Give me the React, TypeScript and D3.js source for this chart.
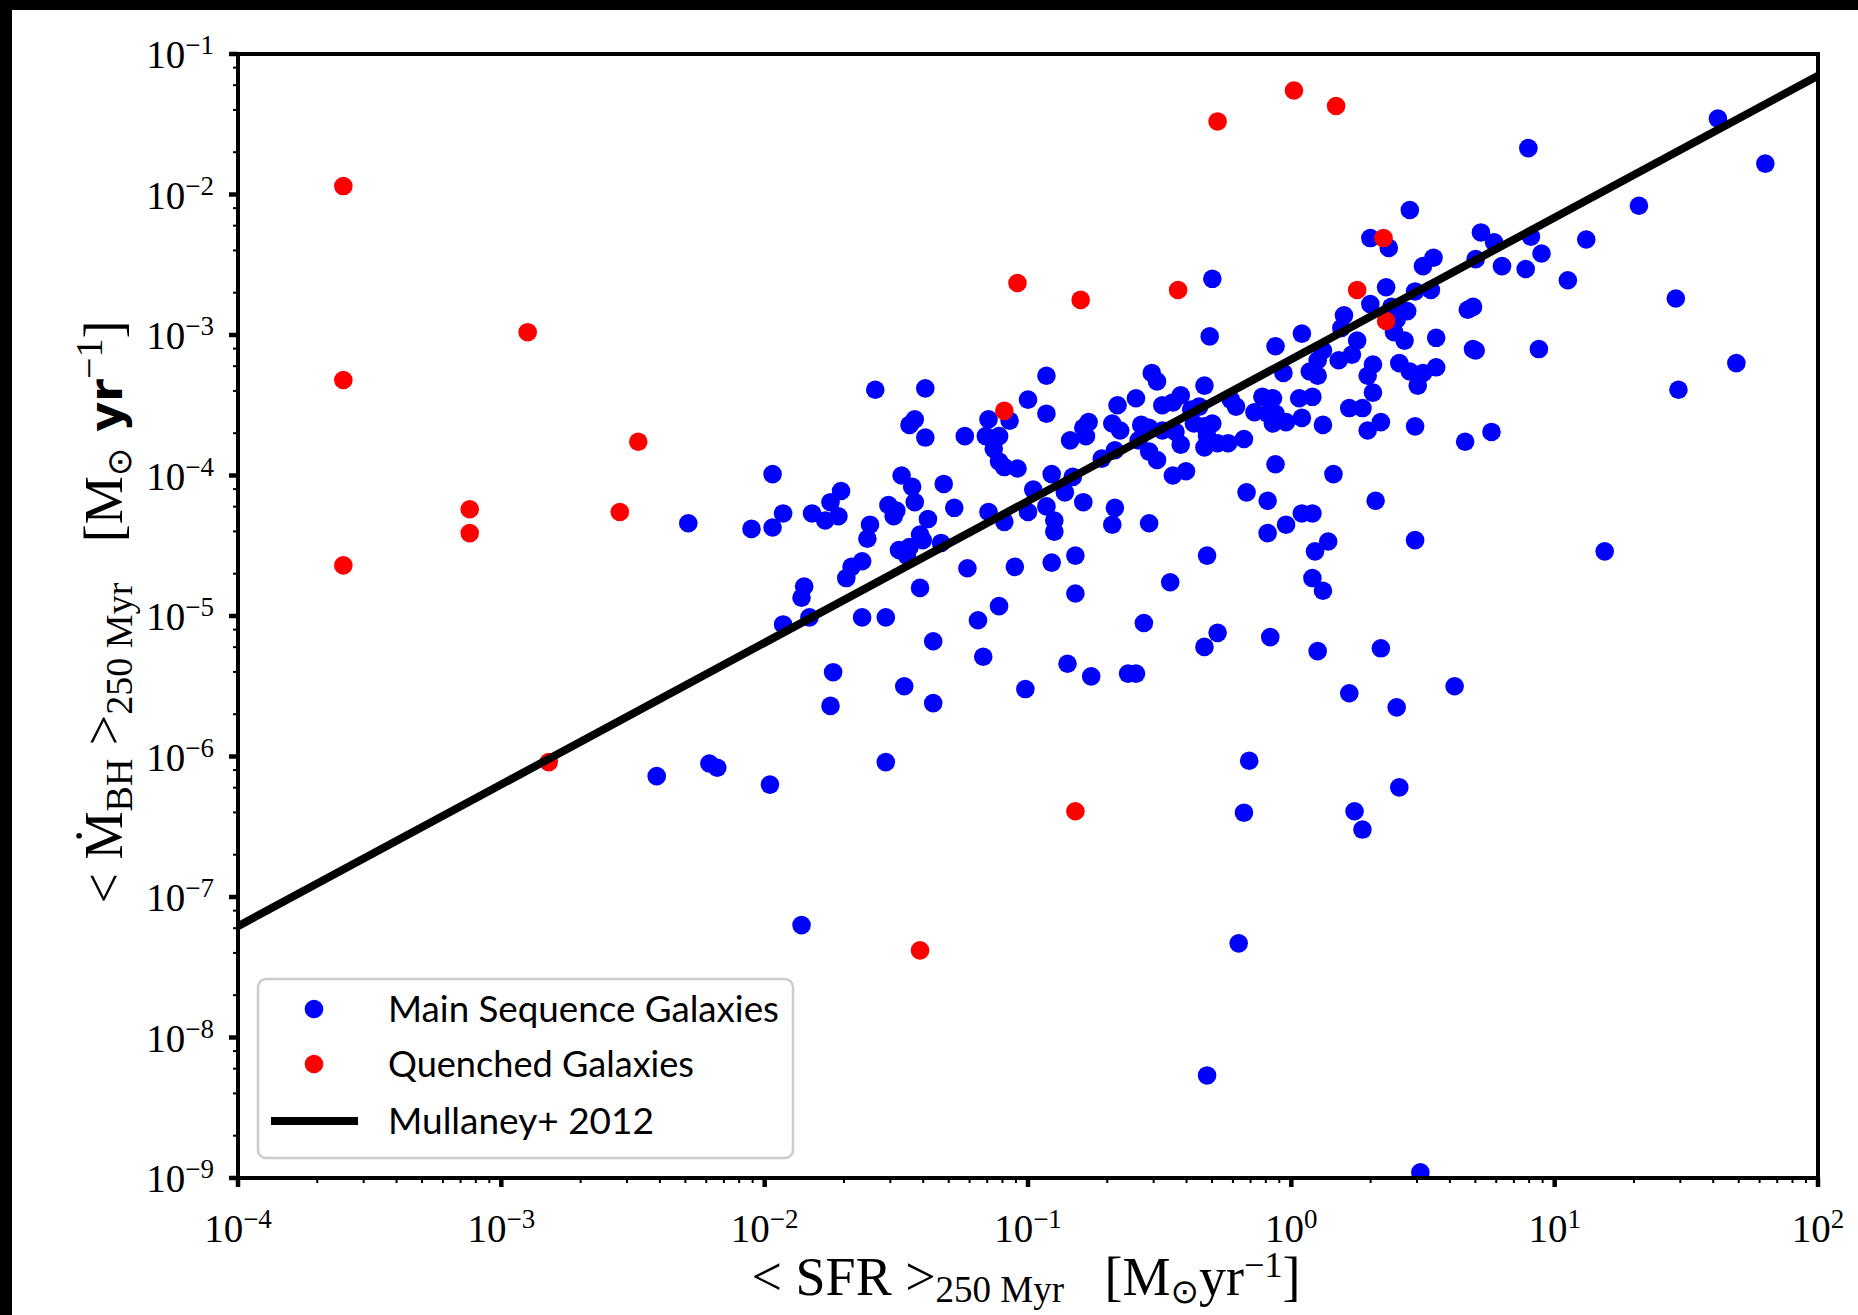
import React from 'react';
import * as d3 from 'd3';

// Values, stored as log10 pairs: [log10 <SFR>, log10 <BHAR>]
const mainSequenceLog: [number, number][] = [
  [0.45,-2.11],[0.72,-2.27],[0.77,-2.34],[0.91,-2.30],[0.95,-2.42],[0.70,-2.46],[0.80,-2.51],[0.89,-2.53],[1.05,-2.61],
  [0.30,-2.31],[0.37,-2.38],[0.50,-2.51],[0.54,-2.45],[-0.30,-2.60],[0.36,-2.66],[0.47,-2.69],[0.53,-2.68],[0.30,-2.78],
  [0.38,-2.80],[0.44,-2.83],[0.40,-2.89],[0.39,-2.98],[0.43,-3.04],[0.67,-2.82],[0.69,-2.80],[0.55,-3.02],[0.69,-3.10],
  [0.70,-3.11],[0.94,-3.10],[0.20,-2.86],[0.19,-2.95],[0.25,-3.04],[0.04,-2.99],[-0.06,-3.08],[-0.31,-3.01],[0.12,-3.11],
  [0.10,-3.18],[0.18,-3.18],[0.23,-3.14],[0.07,-3.26],[0.10,-3.29],[-0.03,-3.27],[0.31,-3.21],[0.29,-3.29],[0.41,-3.20],
  [0.45,-3.26],[0.50,-3.27],[0.55,-3.23],[0.48,-3.36],[0.31,-3.41],[0.03,-3.45],[0.08,-3.44],[0.22,-3.52],[0.27,-3.52],
  [0.04,-3.59],[0.12,-3.64],[0.34,-3.62],[0.29,-3.68],[0.47,-3.65],[0.66,-3.76],[0.76,-3.69],[-0.06,-3.92],[0.16,-3.99],
  [-0.11,-3.44],[-0.07,-3.45],[-0.14,-3.55],[-0.09,-3.56],[-0.06,-3.56],[-0.07,-3.63],[-0.02,-3.62],[-0.21,-3.51],
  [-0.23,-3.46],[-0.18,-3.74],[-0.33,-3.36],
  [-0.66,-3.50],[-0.59,-3.45],[-0.53,-3.27],[-0.51,-3.33],[-0.49,-3.50],[-0.45,-3.48],[-0.42,-3.43],[-0.38,-3.53],
  [-0.35,-3.51],[-0.68,-3.63],[-0.65,-3.68],[-0.57,-3.64],[-0.54,-3.66],[-0.58,-3.75],[-0.49,-3.68],[-0.44,-3.69],
  [-0.42,-3.78],[-0.37,-3.63],[-0.33,-3.65],[-0.30,-3.63],[-0.32,-3.72],[-0.33,-3.80],[-0.28,-3.77],[-0.24,-3.77],
  [-0.67,-3.82],[-0.54,-3.83],[-0.51,-3.89],[-0.45,-4.00],[-0.40,-3.97],
  [-1.58,-3.39],[-1.39,-3.38],[-0.93,-3.29],[-1.00,-3.46],[-0.93,-3.56],[-1.07,-3.61],[-1.15,-3.60],[-1.43,-3.60],
  [-1.45,-3.64],[-1.39,-3.73],[-1.24,-3.72],[-1.16,-3.72],[-1.11,-3.72],[-1.13,-3.81],[-1.11,-3.90],[-1.09,-3.94],
  [-1.04,-3.95],[-0.91,-3.99],[-0.84,-3.75],[-0.78,-3.72],[-0.77,-3.62],[-0.79,-3.66],[-0.72,-3.88],[-0.83,-4.01],
  [-1.97,-3.99],[-1.48,-4.00],[-1.32,-4.06],
  [-2.29,-4.34],[-2.05,-4.38],[-1.97,-4.37],[-1.93,-4.27],[-1.82,-4.27],[-1.77,-4.32],[-1.75,-4.19],[-1.71,-4.11],
  [-1.72,-4.29],[-1.60,-4.35],[-1.61,-4.45],[-1.53,-4.21],[-1.50,-4.25],[-1.51,-4.29],[-1.44,-4.08],[-1.43,-4.19],
  [-1.38,-4.31],[-1.28,-4.23],[-1.41,-4.42],[-1.40,-4.46],[-1.49,-4.53],[-1.45,-4.51],[-1.46,-4.57],[-1.33,-4.48],
  [-1.15,-4.26],[-1.09,-4.33],[-1.00,-4.26],[-0.98,-4.10],[-0.93,-4.22],[-0.90,-4.32],[-0.90,-4.40],[-0.86,-4.12],
  [-0.79,-4.19],[-1.63,-4.61],[-1.67,-4.65],[-1.69,-4.73],[-1.85,-4.79],[-1.86,-4.87],[-1.83,-5.01],[-1.93,-5.06],
  [-1.63,-5.01],[-1.54,-5.01],[-1.41,-4.80],[-1.23,-4.66],[-1.05,-4.65],[-0.91,-4.62],[-0.82,-4.57],[-0.82,-4.84],
  [-1.11,-4.93],[-1.19,-5.03],[-1.36,-5.18],[-1.17,-5.29],[-0.85,-5.34],[-0.76,-5.43],[-1.01,-5.52],[-1.74,-5.40],
  [-1.75,-5.64],[-1.47,-5.50],[-1.36,-5.62],[-2.21,-6.05],[-2.18,-6.08],[-1.54,-6.04],
  [-0.67,-4.23],[-0.68,-4.35],[-0.54,-4.34],[-0.17,-4.12],[-0.09,-4.18],[-0.09,-4.41],[-0.02,-4.35],[0.04,-4.27],
  [0.08,-4.27],[0.32,-4.18],[0.14,-4.47],[0.09,-4.54],[0.47,-4.46],[-0.32,-4.57],[-0.46,-4.76],[0.08,-4.73],
  [0.12,-4.82],[-0.56,-5.05],[-0.28,-5.12],[-0.33,-5.22],[-0.08,-5.15],[0.10,-5.25],[0.34,-5.23],[-0.62,-5.41],
  [-0.59,-5.41],[0.22,-5.55],[0.40,-5.65],[0.62,-5.50],[-0.16,-6.03],
  [1.62,-1.46],[1.80,-1.78],[0.90,-1.67],[1.32,-2.08],[1.12,-2.32],[1.46,-2.74],[1.69,-3.20],[1.47,-3.39],[1.19,-4.54],
  [-2.41,-6.14],[-1.98,-6.20],[-1.86,-7.20],[-0.32,-8.27],[0.49,-8.96],[-0.20,-7.33],[-0.18,-6.40],[0.24,-6.39],
  [0.27,-6.52],[0.41,-6.22],
];

const quenchedLog: [number, number][] = [
  [-3.60,-1.94],[-3.60,-3.32],[-3.60,-4.64],[-2.90,-2.98],[-2.48,-3.76],[-3.12,-4.24],[-3.12,-4.41],[-2.55,-4.26],
  [-2.82,-6.04],[-1.41,-7.38],[-0.82,-6.39],[-1.09,-3.54],[-1.04,-2.63],[-0.80,-2.75],[-0.43,-2.68],[-0.28,-1.48],
  [0.01,-1.26],[0.17,-1.37],[0.25,-2.68],[0.35,-2.31],[0.36,-2.90],
];

// Mullaney+ 2012 relation, end points across the x range
const mullaneySFR = [1e-4, 1e2];
const mullaneyBHAR = [6.2e-8, 7.0e-2];

const xTickExponents = [-4, -3, -2, -1, 0, 1, 2];
const yTickExponents = [-9, -8, -7, -6, -5, -4, -3, -2, -1];
const legendLabels = ['Main Sequence Galaxies', 'Quenched Galaxies', 'Mullaney+ 2012'];

const W = 1858;
const H = 1315;
const L = 238, R = 1818, T = 54, B = 1178;
const SERIF = "'Liberation Serif', 'DejaVu Serif', serif";
const SANS = "Lato, 'DejaVu Sans', sans-serif";
const BLUE = '#0000ff';
const RED = '#ff0000';
const MR = 9.3;

export default function App() {
  const x = d3.scaleLog().domain([1e-4, 1e2]).range([L, R]);
  const y = d3.scaleLog().domain([1e-9, 1e-1]).range([B, T]);

  const ms = mainSequenceLog.map(([a, b]) => [Math.pow(10, a), Math.pow(10, b)]);
  const qg = quenchedLog.map(([a, b]) => [Math.pow(10, a), Math.pow(10, b)]);
  const mullaney = mullaneySFR.map((v, i) => [v, mullaneyBHAR[i]] as [number, number]);
  const linePath = d3.line<[number, number]>().x(d => x(d[0])).y(d => y(d[1]))(mullaney) || '';

  const xMinor: number[] = [];
  for (let e = -4; e < 2; e++) for (let k = 2; k <= 9; k++) xMinor.push(k * Math.pow(10, e));
  const yMinor: number[] = [];
  for (let e = -9; e < -1; e++) for (const k of [2, 4, 6, 8]) yMinor.push(k * Math.pow(10, e));

  const sup = (e: number) => (e < 0 ? '\u2212' + Math.abs(e) : String(e));
  const legendY = [1022, 1077, 1134];
  const legendW = [391, 306, 266];

  return (
    <div style={{ position: 'absolute', left: 0, top: 0, width: W, height: H, background: '#fff' }}>
      <svg width={W} height={H} viewBox={`0 0 ${W} ${H}`} style={{ display: 'block' }}>
        <rect x={0} y={0} width={W} height={H} fill="#fff" />
        <rect x={0} y={0} width={W} height={10} fill="#000" />
        <rect x={0} y={0} width={12} height={H} fill="#000" />
        <defs>
          <clipPath id="plotclip">
            <rect x={L} y={T} width={R - L} height={B - T} />
          </clipPath>
        </defs>
        <g clipPath="url(#plotclip)">
          {ms.map((d, i) => (
            <circle key={'m' + i} cx={x(d[0])} cy={y(d[1])} r={MR} fill={BLUE} />
          ))}
          {qg.map((d, i) => (
            <circle key={'q' + i} cx={x(d[0])} cy={y(d[1])} r={MR} fill={RED} />
          ))}
          <path d={linePath} stroke="#000" strokeWidth={8} fill="none" />
        </g>
        {/* spines */}
        <rect x={L} y={T} width={R - L} height={B - T} fill="none" stroke="#000" strokeWidth={4} />
        {/* x ticks */}
        {xMinor.map((v, i) => (
          <line key={'xm' + i} x1={x(v)} x2={x(v)} y1={B} y2={B + 5} stroke="#000" strokeWidth={2} />
        ))}
        {xTickExponents.map(e => (
          <line key={'xM' + e} x1={x(Math.pow(10, e))} x2={x(Math.pow(10, e))} y1={B} y2={B + 9} stroke="#000" strokeWidth={4.5} />
        ))}
        {yMinor.map((v, i) => (
          <line key={'ym' + i} x1={L} x2={L - 5} y1={y(v)} y2={y(v)} stroke="#000" strokeWidth={2} />
        ))}
        {yTickExponents.map(e => (
          <line key={'yM' + e} x1={L} x2={L - 9} y1={y(Math.pow(10, e))} y2={y(Math.pow(10, e))} stroke="#000" strokeWidth={4.5} />
        ))}
        {/* tick labels */}
        {xTickExponents.map(e => (
          <text key={'xl' + e} x={x(Math.pow(10, e))} y={1242} textAnchor="middle" fontFamily={SERIF} fontSize={39} fill="#000">
            <tspan>10</tspan>
            <tspan dy={-14} fontSize={27}>{sup(e)}</tspan>
          </text>
        ))}
        {yTickExponents.map(e => (
          <text key={'yl' + e} x={214} y={y(Math.pow(10, e)) + 14} textAnchor="end" fontFamily={SERIF} fontSize={39} fill="#000">
            <tspan>10</tspan>
            <tspan dy={-14} fontSize={27}>{sup(e)}</tspan>
          </text>
        ))}
        {/* x axis label */}
        <text x={(L + R) / 2 - 2} y={1295} textAnchor="middle" fontFamily={SERIF} fontSize={54} fill="#000">
          <tspan>{'< SFR >'}</tspan>
          <tspan fontSize={37} dy={7}>{'250 Myr'}</tspan>
          <tspan dy={-7}>{'\u00a0\u00a0\u00a0[M'}</tspan>
          <tspan fontSize={34} dy={8} fontFamily="'DejaVu Sans', sans-serif">{'\u2299'}</tspan>
          <tspan dy={-8}>{'yr'}</tspan>
          <tspan fontSize={36} dy={-18}>{'\u22121'}</tspan>
          <tspan dy={18}>{']'}</tspan>
        </text>
        {/* y axis label */}
        <text transform={`translate(122,${(T + B) / 2 - 4}) rotate(-90)`} textAnchor="middle" fontFamily={SERIF} fontSize={54} fill="#000">
          <tspan>{'< \u1E40'}</tspan>
          <tspan fontSize={38} dy={10}>{'BH'}</tspan>
          <tspan dy={-10}>{' >'}</tspan>
          <tspan fontSize={38} dy={10}>{'250 Myr'}</tspan>
          <tspan dy={-10}>{'\u00a0\u00a0\u00a0[M'}</tspan>
          <tspan fontSize={34} dy={9} fontFamily="'DejaVu Sans', sans-serif">{'\u2299'}</tspan>
          <tspan dy={-9} fontFamily="'DejaVu Sans', sans-serif" fontWeight="bold" fontSize={46}>{'\u00a0yr'}</tspan>
          <tspan fontSize={38} dy={-20}>{'\u22121'}</tspan>
          <tspan dy={20}>{']'}</tspan>
        </text>
        {/* legend */}
        <rect x={258} y={979} width={535} height={179} rx={8} fill="#fff" fillOpacity={0.8} stroke="#cccccc" strokeWidth={2.5} />
        <circle cx={314} cy={1009} r={MR} fill={BLUE} />
        <circle cx={314} cy={1064} r={MR} fill={RED} />
        <line x1={271} x2={358} y1={1121} y2={1121} stroke="#000" strokeWidth={8} />
        {legendLabels.map((t, i) => (
          <text key={'lg' + i} x={388} y={legendY[i]} fontFamily={SANS} fontSize={37} fill="#000"
            textLength={legendW[i]} lengthAdjust="spacingAndGlyphs">{t}</text>
        ))}
      </svg>
    </div>
  );
}
